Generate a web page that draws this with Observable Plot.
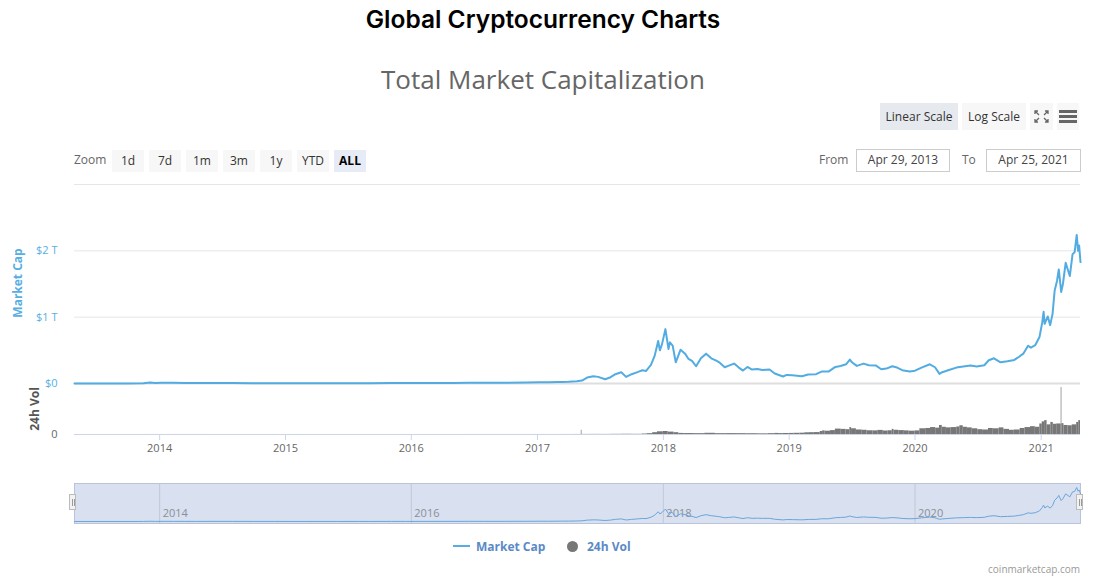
<!DOCTYPE html>
<html><head><meta charset="utf-8">
<script src="https://cdn.jsdelivr.net/npm/d3@7"></script>
<script src="https://cdn.jsdelivr.net/npm/@observablehq/plot@0.6"></script>
<style>
body{margin:0;background:#fff;font-family:"Open Sans",sans-serif;}
#root{position:relative;width:1093px;height:588px;overflow:hidden;background:#fff;}
.abs{position:absolute;}
.btn{position:absolute;background:#f7f7f7;color:#333;font-size:12px;text-align:center;box-sizing:border-box;}
.box{position:absolute;border:1px solid #ccc;color:#444;font-size:12px;text-align:center;box-sizing:border-box;line-height:20px;height:23px;top:149px;}
.lbl{position:absolute;color:#666;font-size:12px;}
svg{overflow:visible}
</style></head><body><div id="root">
<div class="abs" style="left:543px;top:4px;transform:translateX(-50%);font-family:Inter,sans-serif;font-weight:600;font-size:24.5px;color:#000;white-space:nowrap;line-height:30px;">Global Cryptocurrency Charts</div>
<div class="abs" style="left:543px;top:62px;transform:translateX(-50%);font-family:'Open Sans',sans-serif;font-size:26px;color:#666;white-space:nowrap;line-height:34px;">Total Market Capitalization</div>

<div class="btn" style="left:880px;top:103px;width:78px;height:27px;line-height:27px;background:#e6e9ee;">Linear Scale</div>
<div class="btn" style="left:962px;top:103px;width:64px;height:27px;line-height:27px;">Log Scale</div>
<div class="btn" style="left:1030px;top:103px;width:23px;height:27px;">
<svg width="23" height="27" viewBox="0 0 23 27"><g stroke="#666" stroke-width="1.3" fill="none">
<path d="M5 11 L5 8 L8 8 M5 8 L9 12"/><path d="M18 11 L18 8 L15 8 M18 8 L14 12"/>
<path d="M5 16 L5 19 L8 19 M5 19 L9 15"/><path d="M18 16 L18 19 L15 19 M18 19 L14 15"/></g></svg></div>
<div class="btn" style="left:1057px;top:103px;width:22px;height:27px;">
<div class="abs" style="left:2px;top:7px;width:18px;height:3px;background:#666"></div>
<div class="abs" style="left:2px;top:12px;width:18px;height:3px;background:#666"></div>
<div class="abs" style="left:2px;top:17px;width:18px;height:3px;background:#666"></div></div>

<div class="lbl" style="left:74px;top:151px;line-height:18px;">Zoom</div>
<div id="zoomBtns"></div>
<div class="lbl" style="left:819px;top:151px;line-height:18px;">From</div>
<div class="box" style="left:856px;width:94px;">Apr 29, 2013</div>
<div class="lbl" style="left:962px;top:151px;line-height:18px;">To</div>
<div class="box" style="left:986px;width:95px;">Apr 25, 2021</div>

<div id="mainChart" class="abs" style="left:0;top:180px;"></div>
<div id="volChart" class="abs" style="left:0;top:384px;"></div>
<div id="navChart" class="abs" style="left:0;top:483px;"></div>

<div class="abs" style="left:17px;top:283px;transform:translate(-50%,-50%) rotate(-90deg);font-weight:700;font-size:12px;color:#58aee3;white-space:nowrap;">Market Cap</div>
<div class="abs" style="left:34px;top:409px;transform:translate(-50%,-50%) rotate(-90deg);font-weight:700;font-size:12px;color:#555;white-space:nowrap;">24h Vol</div>

<div class="abs" style="left:69px;top:494px;width:7px;height:16px;background:#f2f2f2;border:1px solid #bbb;box-sizing:border-box;">
<div class="abs" style="left:2px;top:4px;width:1px;height:7px;background:#999"></div><div class="abs" style="left:4px;top:4px;width:1px;height:7px;background:#999"></div></div>
<div class="abs" style="left:1076px;top:494px;width:7px;height:16px;background:#f2f2f2;border:1px solid #bbb;box-sizing:border-box;">
<div class="abs" style="left:2px;top:4px;width:1px;height:7px;background:#999"></div><div class="abs" style="left:4px;top:4px;width:1px;height:7px;background:#999"></div></div>

<div class="abs" style="left:453px;top:545px;width:17px;height:2px;background:#58aee3"></div>
<div class="abs" style="left:476px;top:538px;font-weight:700;font-size:12px;color:#5a8ac6;line-height:18px;">Market Cap</div>
<div class="abs" style="left:567px;top:541px;width:11px;height:11px;border-radius:50%;background:#777"></div>
<div class="abs" style="left:587px;top:538px;font-weight:700;font-size:12px;color:#5a8ac6;line-height:18px;">24h Vol</div>
<div class="abs" style="right:13px;top:561px;font-size:10px;color:#999;line-height:16px;">coinmarketcap.com</div>
</div>
<script>
// ---- Data (market cap in $ billions) ----
const capDates = ["2013-04-29","2013-06-01","2013-08-01","2013-10-01","2013-11-15","2013-12-04","2013-12-20","2014-01-05","2014-02-10","2014-03-15","2014-04-15","2014-06-05","2014-08-01","2014-10-01","2014-12-01","2015-01-14","2015-03-01","2015-06-01","2015-08-01","2015-09-01","2015-11-04","2015-12-15","2016-02-01","2016-03-01","2016-05-01","2016-06-17","2016-08-01","2016-10-01","2016-12-01","2017-01-05","2017-02-01","2017-03-01","2017-03-15","2017-04-01","2017-04-25","2017-05-10","2017-05-25","2017-06-12","2017-06-26","2017-07-16","2017-08-01","2017-08-15","2017-09-01","2017-09-15","2017-10-01","2017-10-20","2017-11-01","2017-11-12","2017-11-26","2017-12-07","2017-12-17","2017-12-22","2017-12-28","2018-01-07","2018-01-16","2018-01-20","2018-01-28","2018-02-06","2018-02-20","2018-03-05","2018-03-15","2018-03-25","2018-04-06","2018-04-20","2018-05-05","2018-05-20","2018-06-05","2018-06-12","2018-06-28","2018-07-10","2018-07-25","2018-08-08","2018-08-20","2018-09-02","2018-09-15","2018-10-01","2018-10-15","2018-11-05","2018-11-20","2018-12-14","2018-12-25","2019-01-10","2019-02-07","2019-02-25","2019-03-20","2019-04-05","2019-04-25","2019-05-15","2019-05-30","2019-06-15","2019-06-26","2019-07-02","2019-07-16","2019-08-05","2019-08-20","2019-09-10","2019-09-25","2019-10-10","2019-10-27","2019-11-10","2019-11-25","2019-12-17","2020-01-01","2020-01-20","2020-02-13","2020-02-28","2020-03-12","2020-03-20","2020-04-06","2020-04-30","2020-05-20","2020-06-10","2020-06-28","2020-07-20","2020-08-02","2020-08-17","2020-09-05","2020-09-25","2020-10-15","2020-10-28","2020-11-10","2020-11-24","2020-12-02","2020-12-15","2020-12-27","2021-01-04","2021-01-08","2021-01-11","2021-01-20","2021-01-27","2021-02-03","2021-02-09","2021-02-16","2021-02-21","2021-02-28","2021-03-05","2021-03-13","2021-03-25","2021-04-02","2021-04-08","2021-04-14","2021-04-18","2021-04-21","2021-04-25"];
const capValues = [1.6,1.3,1.2,1.6,5,15,8,11,10,8,6.5,9,8,5.5,5.5,3,3.8,3.6,4.5,3.8,7,6.8,6.8,7.8,8.6,12,10,11,13.5,18,17,21,24,25,33,45,90,110,100,65,95,140,170,100,140,175,200,190,280,420,640,500,590,820,520,620,570,320,510,450,370,340,260,380,450,380,340,320,245,270,300,240,195,250,210,220,205,210,150,105,130,125,110,135,140,180,180,250,265,290,360,320,265,300,275,270,215,225,260,240,200,180,193,240,290,245,145,170,200,240,255,270,255,275,350,380,320,335,355,400,450,570,540,580,700,920,1080,900,1010,880,1050,1400,1550,1720,1380,1500,1820,1620,1950,1980,2240,2000,2080,1830];

// 24h volume in $ billions (period start dates)
const volDates = ["2013-04-29","2013-09-01","2013-11-15","2014-01-01","2014-06-01","2015-01-01","2015-06-01","2016-01-01","2016-06-01","2017-01-01","2017-03-01","2017-04-15","2017-05-08","2017-05-10","2017-06-01","2017-07-01","2017-08-01","2017-09-01","2017-10-01","2017-11-01","2017-11-15","2017-12-01","2017-12-15","2018-01-01","2018-01-15","2018-02-01","2018-02-15","2018-03-01","2018-04-01","2018-05-01","2018-06-01","2018-07-01","2018-08-01","2018-09-01","2018-10-01","2018-11-01","2018-11-20","2018-12-01","2018-12-15","2019-01-01","2019-01-15","2019-02-01","2019-02-15","2019-03-01","2019-03-15","2019-04-01","2019-04-08","2019-04-15","2019-05-01","2019-05-15","2019-06-01","2019-06-15","2019-06-26","2019-07-01","2019-07-15","2019-08-01","2019-08-15","2019-09-01","2019-09-15","2019-10-01","2019-10-15","2019-10-27","2019-11-01","2019-11-15","2019-12-01","2019-12-15","2020-01-01","2020-01-15","2020-02-01","2020-02-15","2020-03-01","2020-03-12","2020-03-20","2020-04-01","2020-04-15","2020-05-01","2020-05-10","2020-05-20","2020-06-01","2020-06-15","2020-07-01","2020-07-15","2020-08-01","2020-08-15","2020-09-01","2020-09-15","2020-10-01","2020-10-15","2020-11-01","2020-11-15","2020-12-01","2020-12-15","2020-12-28","2021-01-04","2021-01-11","2021-01-18","2021-01-29","2021-02-05","2021-02-15","2021-02-28","2021-03-02","2021-03-08","2021-03-20","2021-04-01","2021-04-14","2021-04-20"];
const volValues = [0.05,0.05,0.3,0.1,0.05,0.03,0.05,0.08,0.15,0.3,0.5,1,70,1.5,2,1.5,3,4,3,8,14,30,45,50,40,30,18,16,14,20,14,15,14,13,11,14,18,15,17,18,20,22,28,30,32,50,60,55,65,90,85,80,115,95,75,70,62,60,68,58,62,85,70,65,60,55,60,95,100,115,105,150,120,110,115,125,145,120,110,95,80,75,100,95,110,85,70,75,100,115,130,120,175,210,230,160,200,170,175,780,180,150,145,160,200,230];

const xStart = "2013-04-29", xEnd = "2021-04-25";
const yearTicks = ["2014","2015","2016","2017","2018","2019","2020","2021"];
const navTicks = ["2014","2016","2018","2020"];
const capTicks = [0, 1000, 2000];
const capGrid = [1000, 2000, 3000];
const zoomLabels = ["1d","7d","1m","3m","1y","YTD","ALL"];

// zoom buttons
const zb = document.getElementById("zoomBtns");
zoomLabels.forEach((t,i)=>{
  const d = document.createElement("div");
  d.className = "btn";
  const sel = t === "ALL";
  d.style.cssText = `left:${112+i*37}px;top:150px;width:32px;height:22px;line-height:22px;` + (sel ? "background:#e6ebf5;font-weight:700;color:#000;" : "");
  d.textContent = t;
  zb.appendChild(d);
});

const cap = capDates.map((d,i)=>({date:new Date(d), value:capValues[i]}));
const vol = volDates.map((d,i)=>({start:new Date(d), end:new Date(i+1<volDates.length?volDates[i+1]:xEnd), value:volValues[i]}));
const xOpt = {type:"utc", domain:[new Date(xStart), new Date(xEnd)]};
const font = {fontFamily:"'Open Sans',sans-serif", fontSize:"11px", background:"transparent", overflow:"visible"};

const main = Plot.plot({
  width:1093, height:204, marginLeft:74, marginRight:13, marginTop:4, marginBottom:1,
  style:font,
  x:{...xOpt, axis:null},
  y:{domain:[0,3000]},
  marks:[
    Plot.ruleY(capGrid, {stroke:"#e6e6e6"}),
    Plot.ruleY([0], {stroke:"#dedede", strokeWidth:2}),
    Plot.axisY(capTicks, {label:null, tickSize:0, tickPadding:17, fill:"#58aee3", tickFormat:d=> d===0 ? "$0" : "$"+(d/1000)+" T"}),
    Plot.line(cap, {x:"date", y:"value", stroke:"#52ace2", strokeWidth:2})
  ]
});
document.getElementById("mainChart").appendChild(main);

const volPlot = Plot.plot({
  width:1093, height:76, marginLeft:74, marginRight:13, marginTop:3, marginBottom:26,
  style:font,
  x:{...xOpt},
  y:{domain:[0,780]},
  marks:[
    Plot.rectY(vol, {x1:"start", x2:"end", y:"value", fill:"#777"}),
    Plot.ruleY([0], {stroke:"#ccd6eb"}),
    Plot.axisX(yearTicks.map(d=>new Date(d)), {label:null, tickSize:6, tickPadding:4, stroke:"#ccd6eb", fill:"#666", tickFormat:"%Y"}),
    Plot.axisY([0], {label:null, tickSize:0, tickPadding:17, fill:"#666"})
  ]
});
document.getElementById("volChart").appendChild(volPlot);

const nav = Plot.plot({
  width:1093, height:40, marginLeft:74, marginRight:13, marginTop:0, marginBottom:0,
  style:font,
  x:{...xOpt, axis:null},
  y:{domain:[0,2240], axis:null, insetTop:4, insetBottom:2},
  marks:[
    Plot.frame({fill:"#d9e0ef", stroke:"#b9c4dc"}),
    Plot.ruleX(navTicks.map(d=>new Date(d)), {stroke:"#c2c8d6"}),
    Plot.text(navTicks.map(d=>new Date(d)), {x:d=>d, frameAnchor:"bottom", text:d=>d3.utcFormat("%Y")(d), textAnchor:"start", dx:3, dy:-7, fill:"#8a8f99", fontSize:11}),
    Plot.line(cap, {x:"date", y:"value", stroke:"#6aa6dc", strokeWidth:1})
  ]
});
document.getElementById("navChart").appendChild(nav);
</script></body></html>
